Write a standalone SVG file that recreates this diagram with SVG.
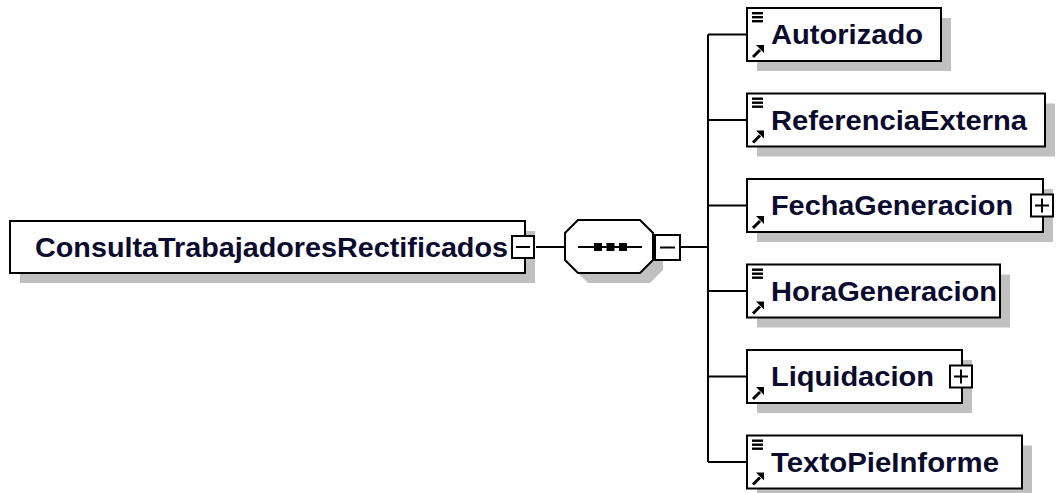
<svg xmlns="http://www.w3.org/2000/svg" width="1057" height="493" viewBox="0 0 1057 493">
<style>
.box{fill:#fff;stroke:#000;stroke-width:2}
.shd{fill:#c0c0c0}
.ln{stroke:#000;stroke-width:2;fill:none}
.t{font-family:"Liberation Sans",Arial,sans-serif;font-weight:bold;font-size:27px;fill:#0b0b2e}
.btn{fill:#fff;stroke:#000;stroke-width:2}
</style>
<defs>
<g id="lines"><rect x="0" y="0" width="11" height="2.4" fill="#000"/><rect x="0" y="4" width="11" height="2.4" fill="#000"/><rect x="0" y="8" width="11" height="2.4" fill="#000"/></g>
<g id="arrow"><line x1="1" y1="12" x2="8" y2="5" stroke="#000" stroke-width="3"/><polygon points="4,0 12,0 12,8" fill="#000"/></g>
</defs>
<g id="connectors">
<line class="ln" x1="536" y1="247" x2="565" y2="247"/>
<line class="ln" x1="680" y1="247" x2="708" y2="247"/>
<line class="ln" x1="708" y1="34.5" x2="708" y2="462"/>
<line class="ln" x1="708" y1="34.5" x2="747" y2="34.5"/>
<line class="ln" x1="708" y1="120" x2="747" y2="120"/>
<line class="ln" x1="708" y1="205.5" x2="747" y2="205.5"/>
<line class="ln" x1="708" y1="291" x2="747" y2="291"/>
<line class="ln" x1="708" y1="376.5" x2="747" y2="376.5"/>
<line class="ln" x1="708" y1="462" x2="747" y2="462"/>
</g>
<g id="root">
<rect class="shd" x="20" y="231" width="515" height="52"/>
<rect class="box" x="10" y="221" width="515" height="52"/>
<text class="t" x="35" y="257" textLength="473" lengthAdjust="spacingAndGlyphs">ConsultaTrabajadoresRectificados</text>
<rect class="btn" x="512" y="236" width="22" height="22"/>
<line class="ln" x1="516" y1="247" x2="530" y2="247"/>
</g>
<g id="sequence">
<polygon class="shd" points="588,230 650,230 663,243 663,270 650,283 588,283 575,270 575,243"/>
<polygon class="box" points="578,220 640,220 653,233 653,260 640,273 578,273 565,260 565,233"/>
<line class="ln" x1="578" y1="247" x2="642" y2="247"/>
<rect x="594" y="243" width="8" height="8" fill="#000"/>
<rect x="606.5" y="243" width="8" height="8" fill="#000"/>
<rect x="619" y="243" width="8" height="8" fill="#000"/>
<rect class="btn" x="655" y="235" width="25" height="25"/>
<line class="ln" x1="660" y1="247.5" x2="675" y2="247.5"/>
</g>
<g id="Autorizado">
<rect class="shd" x="757" y="18" width="194" height="53"/>
<rect class="box" x="747" y="8" width="194" height="53"/>
<use href="#lines" x="752" y="12"/>
<use href="#arrow" x="752" y="45"/>
<text class="t" x="771" y="44" textLength="152" lengthAdjust="spacingAndGlyphs">Autorizado</text>
</g>
<g id="ReferenciaExterna">
<rect class="shd" x="757" y="103.5" width="298" height="53"/>
<rect class="box" x="747" y="93.5" width="298" height="53"/>
<use href="#lines" x="752" y="97.5"/>
<use href="#arrow" x="752" y="130.5"/>
<text class="t" x="771" y="129.5" textLength="256" lengthAdjust="spacingAndGlyphs">ReferenciaExterna</text>
</g>
<g id="FechaGeneracion">
<rect class="shd" x="757" y="189" width="296" height="53"/>
<rect class="box" x="747" y="179" width="296" height="53"/>
<use href="#arrow" x="752" y="216"/>
<text class="t" x="771" y="215" textLength="242" lengthAdjust="spacingAndGlyphs">FechaGeneracion</text>
<rect class="btn" x="1031" y="194.5" width="22" height="22"/>
<line class="ln" x1="1035" y1="205.5" x2="1049" y2="205.5"/>
<line class="ln" x1="1042" y1="198.5" x2="1042" y2="212.5"/>
</g>
<g id="HoraGeneracion">
<rect class="shd" x="757" y="274.5" width="253" height="53"/>
<rect class="box" x="747" y="264.5" width="253" height="53"/>
<use href="#lines" x="752" y="268.5"/>
<use href="#arrow" x="752" y="301.5"/>
<text class="t" x="771" y="300.5" textLength="226" lengthAdjust="spacingAndGlyphs">HoraGeneracion</text>
</g>
<g id="Liquidacion">
<rect class="shd" x="757" y="360" width="215" height="53"/>
<rect class="box" x="747" y="350" width="215" height="53"/>
<use href="#arrow" x="752" y="387"/>
<text class="t" x="771" y="386" textLength="163" lengthAdjust="spacingAndGlyphs">Liquidacion</text>
<rect class="btn" x="950" y="365.5" width="22" height="22"/>
<line class="ln" x1="954" y1="376.5" x2="968" y2="376.5"/>
<line class="ln" x1="961" y1="369.5" x2="961" y2="383.5"/>
</g>
<g id="TextoPieInforme">
<rect class="shd" x="757" y="445.5" width="275" height="53"/>
<rect class="box" x="747" y="435.5" width="275" height="53"/>
<use href="#lines" x="752" y="439.5"/>
<use href="#arrow" x="752" y="472.5"/>
<text class="t" x="771" y="471.5" textLength="228" lengthAdjust="spacingAndGlyphs">TextoPieInforme</text>
</g>
</svg>
